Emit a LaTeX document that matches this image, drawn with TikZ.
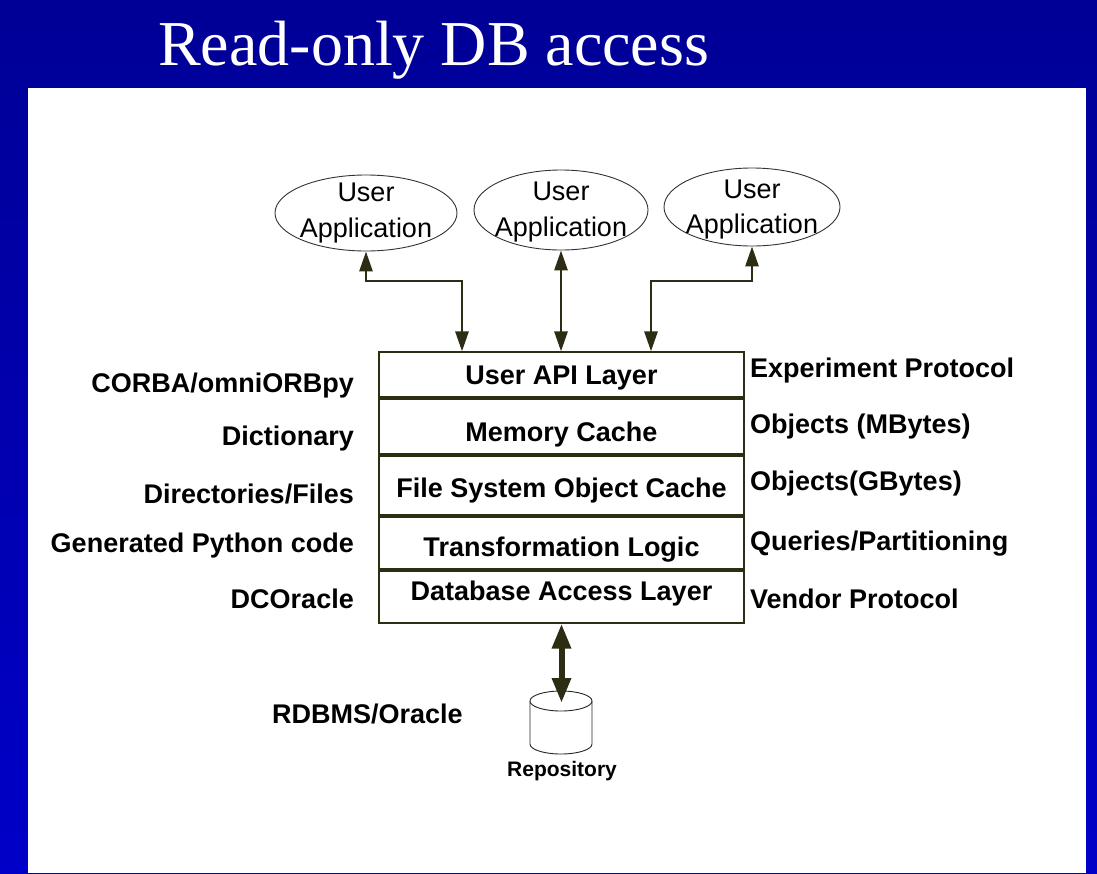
\documentclass[tikz,border=0pt]{standalone}
\usepackage{fontspec}
\setmainfont{Liberation Sans}
\newfontfamily\titlefont{Liberation Serif}
\usetikzlibrary{arrows.meta,shapes.geometric}
\definecolor{olivedark}{RGB}{45,45,20}
\definecolor{slidetop}{RGB}{0,0,150}
\definecolor{slidebot}{RGB}{0,0,200}
\tikzset{
  appell/.style={ellipse, draw=black!80, line width=0.9pt, inner sep=0pt},
  apptext/.style={anchor=base, inner sep=0pt, font=\fontsize{27}{32}\selectfont},
  layertext/.style={anchor=base, inner sep=0pt, font=\bfseries\fontsize{27}{32}\selectfont},
  lefttext/.style={anchor=base east, inner sep=0pt, font=\bfseries\fontsize{27}{32}\selectfont},
  righttext/.style={anchor=base west, inner sep=0pt, font=\bfseries\fontsize{27}{32}\selectfont},
  stackbox/.style={draw=olivedark, line width=1.2pt, inner sep=0pt, fill=white},
  sepline/.style={draw=olivedark, line width=4pt},
  biarrow/.style={draw=olivedark, line width=2.8pt,
    {Triangle[length=20pt,width=13pt]}-{Triangle[length=20pt,width=13pt]}},
  bigarrow/.style={draw=olivedark, line width=6pt,
    {Triangle[length=25pt,width=18pt]}-{Triangle[length=25pt,width=18pt]}},
}
\begin{document}
\begin{tikzpicture}[x=1pt,y=-1pt]
\useasboundingbox (0,0) rectangle (1097,873);
% background
\shade[top color=slidetop, bottom color=slidebot] (0,0) rectangle (1097,873);
\fill[white] (28,88) rectangle (1086,873);
% title
\node[anchor=base west, inner sep=0pt, text=white, font=\titlefont\fontsize{64}{70}\selectfont] (title) at (158,65) {Read-only DB access};

% user applications
\node[appell, minimum width=182pt, minimum height=76pt] (u1) at (366,213) {};
\node[appell, minimum width=174pt, minimum height=80pt] (u2) at (561,210) {};
\node[appell, minimum width=176pt, minimum height=78pt] (u3) at (752,207) {};
\node[apptext] (u1a) at (366,201) {User};
\node[apptext] (u1b) at (366,237) {Application};
\node[apptext] (u2a) at (561,200) {User};
\node[apptext] (u2b) at (561,236) {Application};
\node[apptext] (u3a) at (752,198) {User};
\node[apptext] (u3b) at (752,233) {Application};

% stack
\node[stackbox, minimum width=365pt, minimum height=271pt] (stack) at (561.5,487.5) {};
\foreach \yy in {398,455,516,570}
  \draw[sepline] (stack.west |- 0,\yy) -- (stack.east |- 0,\yy);
\node[layertext] (l1) at (561.5,384) {User API Layer};
\node[layertext] (l2) at (561.5,441) {Memory Cache};
\node[layertext] (l3) at (561.5,497) {File System Object Cache};
\node[layertext] (l4) at (561.5,556) {Transformation Logic};
\node[layertext] (l5) at (561.5,600) {Database Access Layer};

% left labels
\node[lefttext] (a1) at (354,392) {CORBA/omniORBpy};
\node[lefttext] (a2) at (354,445) {Dictionary};
\node[lefttext] (a3) at (354,503) {Directories/Files};
\node[lefttext] (a4) at (354,552) {Generated Python code};
\node[lefttext] (a5) at (354,608) {DCOracle};

% right labels
\node[righttext] (b1) at (750,377) {Experiment Protocol};
\node[righttext] (b2) at (750,433) {Objects (MBytes)};
\node[righttext] (b3) at (750,490) {Objects(GBytes)};
\node[righttext] (b4) at (750,550) {Queries/Partitioning};
\node[righttext] (b5) at (750,608) {Vendor Protocol};

% connectors to applications
\coordinate (j1) at (462,281);
\coordinate (j3) at (651,281);
\draw[biarrow] (u1.south) -- (u1.south |- j1) -- (j1) -- (j1 |- stack.north);
\draw[biarrow] (u2.south) -- (u2.south |- stack.north);
\draw[biarrow] (u3.south) -- (u3.south |- j3) -- (j3) -- (j3 |- stack.north);

% repository cylinder
\fill[white] (530,701) -- (530,744) arc[start angle=180, end angle=360, x radius=31pt, y radius=10pt] -- (592,701) -- cycle;
\draw[black!85, line width=0.9pt] (530,701) -- (530,744) arc[start angle=180, end angle=360, x radius=31pt, y radius=10pt] -- (592,701);
\draw[black!85, line width=0.9pt, fill=white] (561,701) ellipse [x radius=31pt, y radius=10pt];
\coordinate (repotop) at (561.5,703);
\draw[bigarrow] (stack.south) -- (repotop);
\node[anchor=base, inner sep=0pt, font=\bfseries\fontsize{21}{24}\selectfont] (repo) at (562,776) {Repository};
\node[anchor=base west, inner sep=0pt, font=\bfseries\fontsize{27}{32}\selectfont] (rdbms) at (272,723) {RDBMS/Oracle};
\end{tikzpicture}
\end{document}
